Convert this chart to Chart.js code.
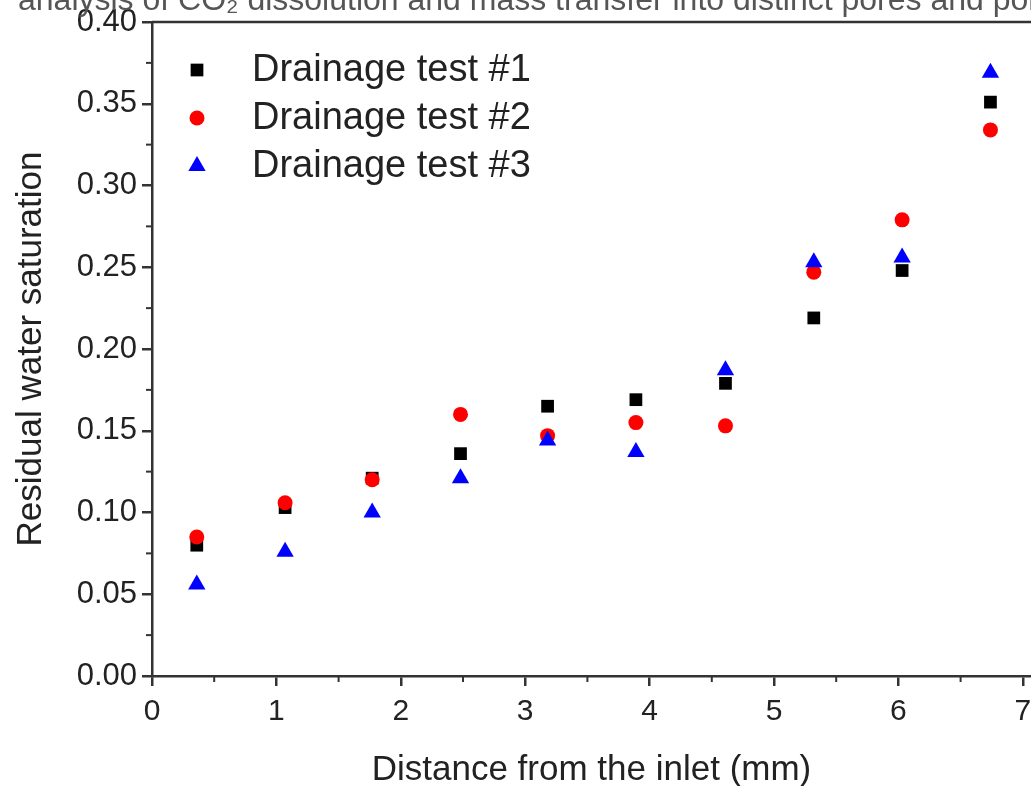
<!DOCTYPE html>
<html>
<head>
<meta charset="utf-8">
<script src="https://cdn.jsdelivr.net/npm/chart.js@4.4.1/dist/chart.umd.min.js"></script>
<style>
  html, body { margin: 0; padding: 0; background: #ffffff; overflow: hidden; }
  #wrap { position: relative; width: 1031px; height: 786px; }
  canvas { display: block; }
</style>
</head>
<body>
<div id="wrap"><canvas id="c" width="1031" height="786"></canvas></div>
<script>
// ---- data ----
const categories = [0.36, 1.07, 1.77, 2.48, 3.18, 3.89, 4.61, 5.32, 6.03, 6.74]; // distance from inlet (mm)
const test1 = [0.080, 0.103, 0.121, 0.136, 0.165, 0.169, 0.179, 0.219, 0.248, 0.351];
const test2 = [0.085, 0.106, 0.120, 0.160, 0.147, 0.155, 0.153, 0.247, 0.279, 0.334];
const test3 = [0.056, 0.076, 0.100, 0.121, 0.144, 0.137, 0.187, 0.253, 0.256, 0.369];
const seriesNames = ['Drainage test #1', 'Drainage test #2', 'Drainage test #3'];
const xTickLabels = ['0', '1', '2', '3', '4', '5', '6', '7'];
const yTickLabels = ['0.00', '0.05', '0.10', '0.15', '0.20', '0.25', '0.30', '0.35', '0.40'];
const xTitle = 'Distance from the inlet (mm)';
const yTitle = 'Residual water saturation';
const captionText = 'analysis of CO\u2082 dissolution and mass transfer into distinct pores and pore throats';

const toPoints = (ys) => categories.map((x, i) => ({ x: x, y: ys[i] }));
const xTickVals = xTickLabels.map(Number);
const yTickVals = yTickLabels.map(Number);

const AXIS = '#333333';
const TEXT = '#222222';
const FONT = '"Liberation Sans", Arial, sans-serif';

const framePlugin = {
  id: 'frame',
  afterDraw(chart) {
    const ctx = chart.ctx;
    const a = chart.chartArea;
    const xs = chart.scales.x, ys = chart.scales.y;
    ctx.save();
    // top frame line
    ctx.strokeStyle = AXIS;
    ctx.lineWidth = 2.5;
    ctx.beginPath();
    ctx.moveTo(a.left, a.top);
    ctx.lineTo(a.right, a.top);
    ctx.stroke();
    // minor ticks (midpoints between major ticks)
    ctx.lineWidth = 2;
    for (let i = 0; i < xTickVals.length - 1; i++) {
      const px = xs.getPixelForValue((xTickVals[i] + xTickVals[i + 1]) / 2);
      ctx.beginPath();
      ctx.moveTo(px, a.bottom);
      ctx.lineTo(px, a.bottom + 6);
      ctx.stroke();
    }
    for (let i = 0; i < yTickVals.length - 1; i++) {
      const py = ys.getPixelForValue((yTickVals[i] + yTickVals[i + 1]) / 2);
      ctx.beginPath();
      ctx.moveTo(a.left, py);
      ctx.lineTo(a.left - 6, py);
      ctx.stroke();
    }
    // caption remnant at top (clipped)
    ctx.fillStyle = '#555555';
    ctx.font = '32px ' + FONT;
    ctx.textBaseline = 'alphabetic';
    ctx.textAlign = 'left';
    ctx.fillText(captionText, 18, 10);

    // legend inside plot area
    const rowsY = [a.top + 48, a.top + 96, a.top + 144];
    const mx = a.left + 45;
    chart.data.datasets.forEach((ds, i) => {
      const opts = { pointStyle: ds.pointStyle, radius: ds.pointRadius, rotation: 0, borderWidth: 0 };
      ctx.fillStyle = ds.backgroundColor;
      ctx.strokeStyle = ds.backgroundColor;
      ctx.lineWidth = 0.01;
      if (Chart.helpers && Chart.helpers.drawPoint) {
        Chart.helpers.drawPoint(ctx, opts, mx, rowsY[i]);
      }
      ctx.fillStyle = TEXT;
      ctx.font = '38px ' + FONT;
      ctx.textBaseline = 'middle';
      ctx.textAlign = 'left';
      ctx.fillText(ds.label, a.left + 100, rowsY[i] + 1);
    });
    ctx.restore();
  }
};

new Chart(document.getElementById('c'), {
  type: 'scatter',
  data: {
    datasets: [
      { label: seriesNames[0], data: toPoints(test1), backgroundColor: '#000000', borderColor: '#000000', borderWidth: 0, pointStyle: 'rect', pointRadius: 9, order: 3 },
      { label: seriesNames[1], data: toPoints(test2), backgroundColor: '#ff0000', borderColor: '#ff0000', borderWidth: 0, pointStyle: 'circle', pointRadius: 7.5, order: 2 },
      { label: seriesNames[2], data: toPoints(test3), backgroundColor: '#0000ff', borderColor: '#0000ff', borderWidth: 0, pointStyle: 'triangle', pointRadius: 10, order: 1 }
    ]
  },
  options: {
    responsive: false,
    animation: false,
    devicePixelRatio: 1,
    events: [],
    layout: { autoPadding: false, padding: { top: 22, right: 0, left: 0, bottom: 0 } },
    plugins: { legend: { display: false }, tooltip: { enabled: false }, title: { display: false } },
    scales: {
      x: {
        type: 'linear',
        min: 0,
        max: 7.066,
        afterBuildTicks: (s) => { s.ticks = xTickVals.map(v => ({ value: v })); },
        afterFit: (s) => { s.height = 110; s.paddingLeft = 0; s.paddingRight = 0; },
        ticks: {
          includeBounds: false,
          autoSkip: false,
          maxRotation: 0,
          color: TEXT,
          padding: 8,
          font: { family: FONT, size: 30 },
          callback: (v) => { const i = xTickVals.indexOf(v); return i >= 0 ? xTickLabels[i] : ''; }
        },
        grid: { drawOnChartArea: false, drawTicks: true, tickLength: 10, color: AXIS, lineWidth: 2.5 },
        border: { display: true, color: AXIS, width: 2.5 },
        title: { display: true, text: xTitle, color: TEXT, font: { family: FONT, size: 35, lineHeight: 0.9 }, padding: { top: 0, bottom: 0 } }
      },
      y: {
        type: 'linear',
        min: 0,
        max: 0.40,
        afterBuildTicks: (s) => { s.ticks = yTickVals.map(v => ({ value: v })); },
        afterFit: (s) => { s.width = 152; s.paddingTop = 0; s.paddingBottom = 0; },
        ticks: {
          autoSkip: false,
          color: TEXT,
          padding: 5,
          font: { family: FONT, size: 31 },
          callback: (v) => { const i = yTickVals.findIndex(t => Math.abs(t - v) < 1e-9); return i >= 0 ? yTickLabels[i] : ''; }
        },
        grid: { drawOnChartArea: false, drawTicks: true, tickLength: 10, color: AXIS, lineWidth: 2.5 },
        border: { display: true, color: AXIS, width: 2.5 },
        title: { display: true, text: yTitle, color: TEXT, font: { family: FONT, size: 35 }, padding: { top: 10, bottom: 0 } }
      }
    }
  },
  plugins: [framePlugin]
});
</script>
</body>
</html>
